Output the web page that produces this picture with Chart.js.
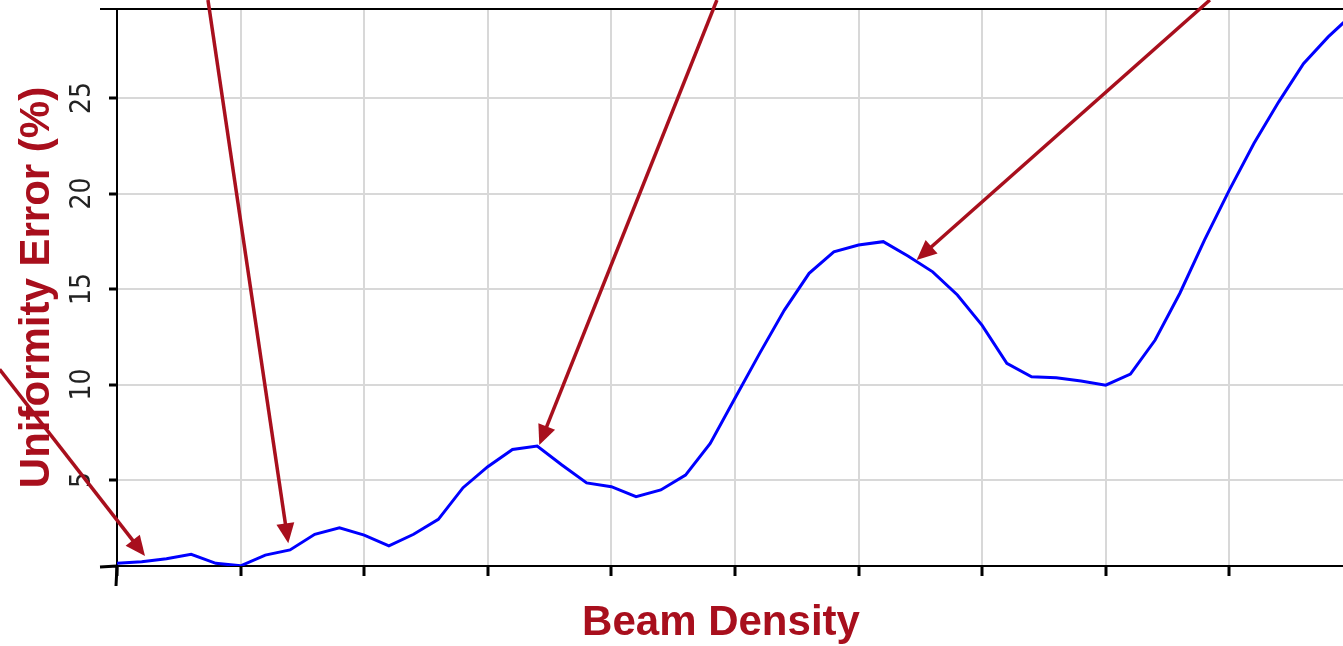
<!DOCTYPE html>
<html>
<head>
<meta charset="utf-8">
<script src="https://cdn.jsdelivr.net/npm/chart.js@4.4.1/dist/chart.umd.min.js"></script>
<style>
  html, body { margin: 0; padding: 0; background: #ffffff; }
  #wrap { width: 1343px; height: 646px; }
</style>
</head>
<body>
<div id="wrap"><canvas id="c" width="1343" height="646"></canvas></div>
<script>
// ---- data ----
const densityValues = [0, 0.2, 0.4, 0.6, 0.8, 1, 1.2, 1.4, 1.6, 1.8, 2, 2.2, 2.4, 2.6, 2.8, 3, 3.2, 3.4, 3.6, 3.8, 4, 4.2, 4.4, 4.6, 4.8, 5, 5.2, 5.4, 5.6, 5.8, 6, 6.2, 6.4, 6.6, 6.8, 7, 7.2, 7.4, 7.6, 7.8, 8, 8.2, 8.4, 8.6, 8.8, 9, 9.2, 9.4, 9.6, 9.8, 10];
const errorValues = [0.64, 0.72, 0.88, 1.11, 0.64, 0.51, 1.07, 1.34, 2.16, 2.5, 2.12, 1.56, 2.16, 2.94, 4.6, 5.7, 6.6, 6.78, 5.79, 4.85, 4.65, 4.13, 4.48, 5.26, 6.92, 9.28, 11.63, 13.9, 15.82, 16.95, 17.3, 17.48, 16.73, 15.9, 14.69, 13.1, 11.11, 10.41, 10.36, 10.18, 9.97, 10.55, 12.33, 14.78, 17.57, 20.18, 22.63, 24.8, 26.8, 28.2, 29.4];
const yTickValues = [5, 10, 15, 20, 25];
const xTickValues = [0, 1, 2, 3, 4, 5, 6, 7, 8, 9];
const yTickLabels = ['5', '10', '15', '20', '25'];
const xAxisTitle = 'Beam Density';
const yAxisTitle = 'Uniformity Error (%)';
// annotation arrows, in data units
const arrowTailX = [-0.95, 0.736, 4.854, 8.843];
const arrowTailY = [10.8, 30.13, 30.13, 30.13];
const arrowTipX = [0.2265, 1.386, 3.417, 6.47];
const arrowTipY = [1.02, 1.69, 6.83, 16.52];

const points = densityValues.map((d, i) => ({ x: d, y: errorValues[i] }));

const RED = '#A80F1D';

const decorPlugin = {
  id: 'decor',
  afterDraw(chart) {
    const { ctx, chartArea, scales } = chart;
    const xs = scales.x, ys = scales.y;
    ctx.save();
    // top border and axis end caps
    ctx.strokeStyle = '#000';
    ctx.lineWidth = 2;
    ctx.beginPath();
    ctx.moveTo(chartArea.left - 17, chartArea.top);
    ctx.lineTo(chart.width, chartArea.top);
    ctx.stroke();
    ctx.lineWidth = 3;
    ctx.beginPath();
    ctx.moveTo(chartArea.left - 17, chartArea.bottom + 1);
    ctx.lineTo(chartArea.left, chartArea.bottom);
    ctx.moveTo(chartArea.left, chartArea.bottom);
    ctx.lineTo(chartArea.left - 1, chartArea.bottom + 20);
    ctx.stroke();

    // rotated y tick labels
    ctx.fillStyle = '#222';
    ctx.font = '28px "Liberation Sans Narrow", "DejaVu Sans Condensed", "Arial Narrow", sans-serif';
    ctx.textAlign = 'center';
    ctx.textBaseline = 'alphabetic';
    yTickValues.forEach((v, i) => {
      const py = ys.getPixelForValue(v);
      ctx.save();
      ctx.translate(chartArea.left - 27, py);
      ctx.rotate(-Math.PI / 2);
      ctx.fillText(yTickLabels[i], 0, 0);
      ctx.restore();
    });

    // x axis title
    ctx.fillStyle = RED;
    ctx.font = 'bold 42px "Liberation Sans", Arial, sans-serif';
    ctx.textAlign = 'center';
    ctx.textBaseline = 'alphabetic';
    ctx.fillText(xAxisTitle, (chartArea.left + chartArea.right) / 2 - 9, xs.bottom - 11);

    // arrows
    ctx.strokeStyle = RED;
    ctx.fillStyle = RED;
    ctx.lineWidth = 3.5;
    ctx.lineCap = 'butt';
    for (let i = 0; i < arrowTipX.length; i++) {
      const x0 = xs.getPixelForValue(arrowTailX[i]);
      const y0 = ys.getPixelForValue(arrowTailY[i]);
      const x1 = xs.getPixelForValue(arrowTipX[i]);
      const y1 = ys.getPixelForValue(arrowTipY[i]);
      const ang = Math.atan2(y1 - y0, x1 - x0);
      const headLen = 20, headW = 9;
      const bx = x1 - headLen * Math.cos(ang);
      const by = y1 - headLen * Math.sin(ang);
      ctx.beginPath();
      ctx.moveTo(x0, y0);
      ctx.lineTo(bx + 2 * Math.cos(ang), by + 2 * Math.sin(ang));
      ctx.stroke();
      ctx.beginPath();
      ctx.moveTo(x1, y1);
      ctx.lineTo(bx + headW * Math.sin(ang), by - headW * Math.cos(ang));
      ctx.lineTo(bx - headW * Math.sin(ang), by + headW * Math.cos(ang));
      ctx.closePath();
      ctx.fill();
    }
    ctx.restore();
  }
};

new Chart(document.getElementById('c'), {
  type: 'line',
  data: {
    datasets: [{
      data: points,
      borderColor: '#0000FF',
      borderWidth: 3,
      pointRadius: 0,
      tension: 0,
      fill: false
    }]
  },
  options: {
    responsive: false,
    devicePixelRatio: 1,
    animation: false,
    layout: { padding: { top: 9, right: 0, bottom: 0, left: 0 } },
    plugins: { legend: { display: false }, tooltip: { enabled: false } },
    scales: {
      x: {
        type: 'linear',
        min: 0,
        max: 9.92,
        afterBuildTicks(scale) { scale.ticks = xTickValues.map(v => ({ value: v })); },
        afterFit(scale) { scale.height = 80; },
        ticks: { display: false },
        grid: { color: '#d8d8d8', lineWidth: 2, drawTicks: true, tickLength: 10, tickColor: '#000', tickWidth: 3 },
        border: { display: true, color: '#000', width: 2 },
        title: { display: false, text: xAxisTitle }
      },
      y: {
        type: 'linear',
        min: 0.5,
        max: 29.66,
        afterBuildTicks(scale) { scale.ticks = yTickValues.map(v => ({ value: v })); },
        afterFit(scale) { scale.width = 117; },
        ticks: { display: false },
        grid: { color: '#d8d8d8', lineWidth: 2, drawTicks: true, tickLength: 8, tickColor: '#000', tickWidth: 3 },
        border: { display: true, color: '#000', width: 2 },
        title: {
          display: true,
          text: yAxisTitle,
          color: RED,
          font: { family: '"Liberation Sans", Arial, sans-serif', size: 42, weight: 'bold', lineHeight: 1 },
          padding: { top: 16, bottom: 0 }
        }
      }
    }
  },
  plugins: [decorPlugin]
});
</script>
</body>
</html>
